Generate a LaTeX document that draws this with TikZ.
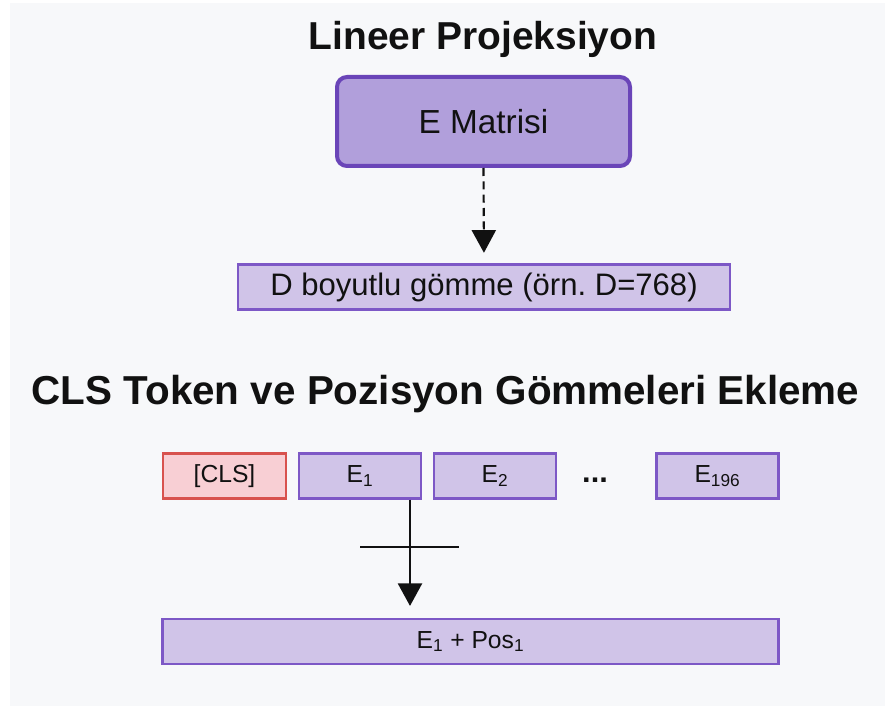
\documentclass[tikz,border=0pt]{standalone}
\usepackage{fontspec}
\setmainfont{Liberation Sans}
\usetikzlibrary{arrows.meta,calc}
\frenchspacing

\definecolor{pagebg}{HTML}{F7F8FA}
\definecolor{matfill}{HTML}{B19FDB}
\definecolor{matline}{HTML}{6A45B8}
\definecolor{embfill}{HTML}{D0C4E8}
\definecolor{embline}{HTML}{7D58C6}
\definecolor{clsfill}{HTML}{F8CFD4}
\definecolor{clsline}{HTML}{D8524E}
\definecolor{ink}{HTML}{111111}

\tikzset{
  heading/.style={font=\fontsize{29.2pt}{33pt}\selectfont\bfseries, text=ink, inner sep=0pt},
  matbox/.style={draw=matline, fill=matfill, line width=3pt, rounded corners=7.5pt,
    minimum width=219.75pt, minimum height=66.75pt, inner sep=0pt,
    font=\fontsize{25pt}{29pt}\selectfont, text=ink},
  embbox/.style={draw=embline, fill=embfill, line width=1.8pt, inner sep=0pt,
    minimum height=33.5pt, text=ink},
  clsbox/.style={embbox, draw=clsline, fill=clsfill},
  tokbox/.style={embbox, minimum width=91.5pt, font=\fontsize{18.5pt}{21pt}\selectfont},
  flow/.style={draw=ink, line width=2pt, -{Triangle[length=17pt,width=18pt]}},
}

\begin{document}
\begin{tikzpicture}[x=0.75pt,y=-0.75pt]
  \useasboundingbox (0,0) rectangle (885,706);
  \fill[pagebg] (10,3) rectangle (885,706);

  % linear projection
  \node[heading] (title1) at (483,39) {Lineer Projeksiyon};
  \node[matbox] (mat) at (483.5,121.5) {E Matrisi};
  \node[embbox, minimum width=369pt, font=\fontsize{23.3pt}{27pt}\selectfont]
    (emb) at (484,287) {D boyutlu gömme (örn. D=768)};
  \draw[flow, line width=1.6pt, dash pattern=on 6pt off 4pt, shorten >=8pt]
    (mat.south) -- (emb.north);

  % CLS token and position embeddings
  \node[heading, font=\fontsize{30.3pt}{34pt}\selectfont\bfseries]
    (title2) at (445.5,394) {CLS Token ve Pozisyon Gömmeleri Ekleme};
  \node[tokbox, clsbox, minimum width=92pt] (cls) at (224.5,476) {[CLS]};
  \node[tokbox] (e1) at (360,476) {E\textsubscript{1}};
  \node[tokbox] (e2) at (495,476) {E\textsubscript{2}};
  \node[font=\fontsize{23pt}{26pt}\selectfont\bfseries, text=ink, inner sep=0pt]
    (dots) at (595,480) {...};
  \node[tokbox] (e196) at (717.5,476) {E\textsubscript{196}};
  \node[embbox, minimum width=462pt, font=\fontsize{18.5pt}{21pt}\selectfont]
    (sum) at (470.5,641.5) {E\textsubscript{1} + Pos\textsubscript{1}};

  \coordinate (tap) at ($(e1.south)+(50,0)$);
  \coordinate (plusl) at (360,547);
  \coordinate (plusr) at (459,547);
  \draw[flow, shorten >=9pt] (tap) -- (tap |- sum.north);
  \draw[draw=ink, line width=2pt] (plusl) -- (plusr);
\end{tikzpicture}
\end{document}
